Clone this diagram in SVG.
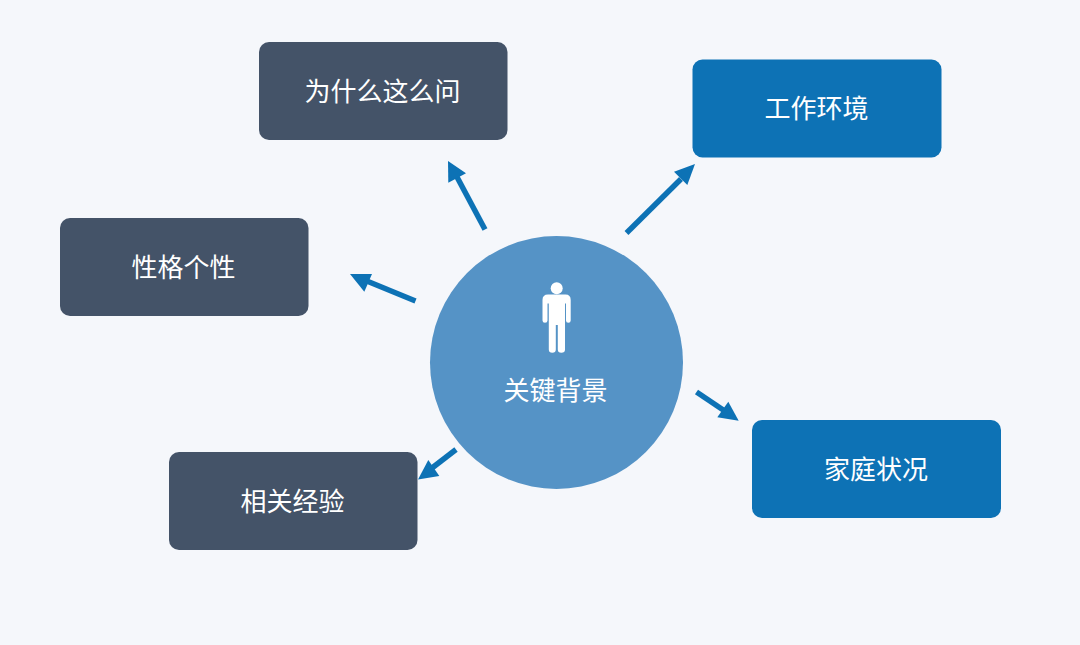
<svg xmlns="http://www.w3.org/2000/svg" width="1080" height="645" viewBox="0 0 1080 645">
<style>
.t{font-family:"Noto Sans CJK SC","Liberation Sans",sans-serif;font-size:26px;fill:#fff;text-anchor:middle;font-weight:400}
.d{fill:#445368}
.b{fill:#0d72b5}
.c{fill:none;stroke:#0d72b5;stroke-width:5.500}
.h{fill:#0d72b5}
</style>
<rect width="1080" height="645" fill="#f5f7fb"/>
<g id="connectors">
<path class="c" d="M485 229.500L457 177"/><polygon class="h" points="448,161 466,173.300 448.300,182.700"/>
<path class="c" d="M626.500 233L681 179"/><polygon class="h" points="695,164 687.300,185 674,171.700"/>
<path class="c" d="M415.500 301L368 281.500"/><polygon class="h" points="350,274 372,274 364.300,291.700"/>
<path class="c" d="M696.500 392L724 410.500"/><polygon class="h" points="738.700,420.700 717.300,417.300 728.300,401.700"/>
<path class="c" d="M456 449.500L432 468"/><polygon class="h" points="418,479.500 428.300,460 439.300,476"/>
</g>
<g id="node-why"><rect class="d" x="259" y="42" width="248.500" height="98" rx="10"/><text class="t" x="382.500" y="100.500">为什么这么问</text></g>
<g id="node-work"><rect class="b" x="692.500" y="59.500" width="249" height="98" rx="10"/><text class="t" x="816.500" y="118">工作环境</text></g>
<g id="node-personality"><rect class="d" x="60" y="218" width="248.500" height="98" rx="10"/><text class="t" x="183.500" y="276.500">性格个性</text></g>
<g id="node-experience"><rect class="d" x="169" y="452" width="248.500" height="98" rx="10"/><text class="t" x="292.500" y="510.500">相关经验</text></g>
<g id="node-family"><rect class="b" x="752" y="420" width="249" height="98" rx="10"/><text class="t" x="876" y="478.500">家庭状况</text></g>
<g id="node-center">
<circle cx="556.500" cy="362.500" r="126.500" fill="#5593c6"/>
<circle cx="556.700" cy="288.300" r="6" fill="#fff"/>
<path fill="#fff" d="M548 294.500H565.500Q570.700 294.500 570.700 300V320.500Q570.700 322.800 568.300 322.800Q566 322.800 566 320.500V303.500H565V349.500Q565 352.700 561.300 352.700Q557.800 352.700 557.800 349.500V325H555.800V349.500Q555.800 352.700 552.300 352.700Q548.800 352.700 548.800 349.500V303.500H547.500V320.500Q547.500 322.800 545 322.800Q542.500 322.800 542.500 320.500V300Q542.500 294.500 548 294.500Z"/>
<text class="t" x="555.500" y="400">关键背景</text>
</g>
</svg>
